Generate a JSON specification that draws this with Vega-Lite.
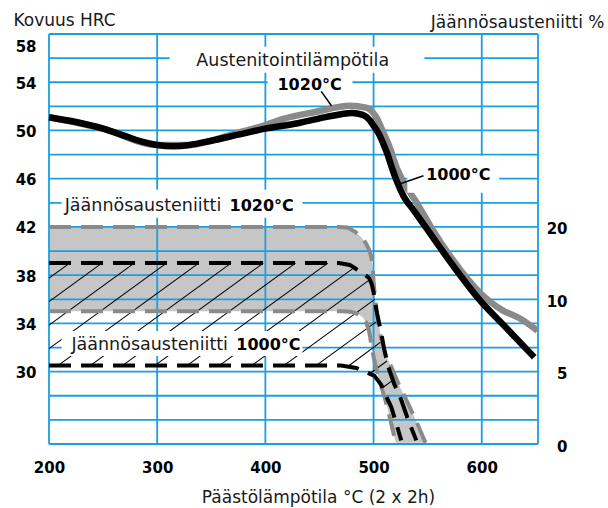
{
  "$schema": "https://vega.github.io/schema/vega-lite/v6.json",
  "width": 489,
  "height": 410,
  "autosize": {"type": "none"},
  "padding": {"left": 49, "top": 34, "right": 70, "bottom": 64},
  "background": "white",
  "config": {
    "view": {"stroke": null},
    "font": "DejaVu Sans",
    "axis": {"labelFont": "DejaVu Sans", "titleFont": "DejaVu Sans", "labelColor": "#000", "titleColor": "#1a1a1a"}
  },
  "datasets": {
    "kovuus": [
      {"austenitointi": "1000°C", "t": 200, "hrc": 51.1},
      {"austenitointi": "1000°C", "t": 225, "hrc": 50.7},
      {"austenitointi": "1000°C", "t": 250, "hrc": 50.15},
      {"austenitointi": "1000°C", "t": 270, "hrc": 49.55},
      {"austenitointi": "1000°C", "t": 285, "hrc": 49.1},
      {"austenitointi": "1000°C", "t": 300, "hrc": 48.8},
      {"austenitointi": "1000°C", "t": 315, "hrc": 48.7},
      {"austenitointi": "1000°C", "t": 330, "hrc": 48.8},
      {"austenitointi": "1000°C", "t": 350, "hrc": 49.15},
      {"austenitointi": "1000°C", "t": 375, "hrc": 49.65},
      {"austenitointi": "1000°C", "t": 400, "hrc": 50.15},
      {"austenitointi": "1000°C", "t": 430, "hrc": 50.6},
      {"austenitointi": "1000°C", "t": 450, "hrc": 51.0},
      {"austenitointi": "1000°C", "t": 470, "hrc": 51.35},
      {"austenitointi": "1000°C", "t": 480, "hrc": 51.45},
      {"austenitointi": "1000°C", "t": 490, "hrc": 51.3},
      {"austenitointi": "1000°C", "t": 496, "hrc": 50.9},
      {"austenitointi": "1000°C", "t": 500, "hrc": 50.4},
      {"austenitointi": "1000°C", "t": 505, "hrc": 49.7},
      {"austenitointi": "1000°C", "t": 509, "hrc": 48.9},
      {"austenitointi": "1000°C", "t": 513, "hrc": 48.0},
      {"austenitointi": "1000°C", "t": 517, "hrc": 46.9},
      {"austenitointi": "1000°C", "t": 521, "hrc": 45.9},
      {"austenitointi": "1000°C", "t": 528, "hrc": 44.5},
      {"austenitointi": "1000°C", "t": 537, "hrc": 43.4},
      {"austenitointi": "1000°C", "t": 548, "hrc": 42.0},
      {"austenitointi": "1000°C", "t": 573, "hrc": 38.85},
      {"austenitointi": "1000°C", "t": 598, "hrc": 35.95},
      {"austenitointi": "1000°C", "t": 623, "hrc": 33.6},
      {"austenitointi": "1000°C", "t": 648.5, "hrc": 31.2},
      {"austenitointi": "1020°C", "t": 200, "hrc": 51.1},
      {"austenitointi": "1020°C", "t": 250, "hrc": 50.15},
      {"austenitointi": "1020°C", "t": 300, "hrc": 48.8},
      {"austenitointi": "1020°C", "t": 330, "hrc": 48.8},
      {"austenitointi": "1020°C", "t": 370, "hrc": 49.7},
      {"austenitointi": "1020°C", "t": 400, "hrc": 50.45},
      {"austenitointi": "1020°C", "t": 416, "hrc": 50.95},
      {"austenitointi": "1020°C", "t": 447, "hrc": 51.55},
      {"austenitointi": "1020°C", "t": 478, "hrc": 52.05},
      {"austenitointi": "1020°C", "t": 493, "hrc": 51.9},
      {"austenitointi": "1020°C", "t": 502.5, "hrc": 51.1},
      {"austenitointi": "1020°C", "t": 508, "hrc": 50.05},
      {"austenitointi": "1020°C", "t": 514.7, "hrc": 48.65},
      {"austenitointi": "1020°C", "t": 521, "hrc": 47.0},
      {"austenitointi": "1020°C", "t": 526.6, "hrc": 45.9},
      {"austenitointi": "1020°C", "t": 540, "hrc": 44.0},
      {"austenitointi": "1020°C", "t": 553, "hrc": 42.0},
      {"austenitointi": "1020°C", "t": 573, "hrc": 39.3},
      {"austenitointi": "1020°C", "t": 597.7, "hrc": 36.6},
      {"austenitointi": "1020°C", "t": 618.9, "hrc": 35.1},
      {"austenitointi": "1020°C", "t": 634.6, "hrc": 34.45},
      {"austenitointi": "1020°C", "t": 651.5, "hrc": 33.4}
    ],
    "alueet": [
      {"reuna": "1020 ylä", "p": 1, "t": 200, "h": 42.0},
      {"reuna": "1020 ylä", "p": 2, "t": 468, "h": 42.0},
      {"reuna": "1020 ylä", "p": 3, "t": 476, "h": 41.95},
      {"reuna": "1020 ylä", "p": 4, "t": 483, "h": 41.6},
      {"reuna": "1020 ylä", "p": 5, "t": 488, "h": 41.2},
      {"reuna": "1020 ylä", "p": 6, "t": 492.5, "h": 40.7},
      {"reuna": "1020 ylä", "p": 7, "t": 496, "h": 40.1},
      {"reuna": "1020 ylä", "p": 8, "t": 498, "h": 39.5},
      {"reuna": "1020 ylä", "p": 9, "t": 499.3, "h": 38.6},
      {"reuna": "1020 ylä", "p": 10, "t": 500, "h": 37.5},
      {"reuna": "1020 ylä", "p": 11, "t": 501.3, "h": 36.2},
      {"reuna": "1020 ylä", "p": 12, "t": 503.5, "h": 34.6},
      {"reuna": "1020 ylä", "p": 13, "t": 507, "h": 32.8},
      {"reuna": "1020 ylä", "p": 14, "t": 511, "h": 31.4},
      {"reuna": "1020 ylä", "p": 15, "t": 516.4, "h": 30.4},
      {"reuna": "1020 ylä", "p": 16, "t": 523, "h": 29.0},
      {"reuna": "1020 ylä", "p": 17, "t": 530.3, "h": 27.65},
      {"reuna": "1020 ylä", "p": 18, "t": 539, "h": 26.0},
      {"reuna": "1020 ylä", "p": 19, "t": 548, "h": 24.1},
      {"reuna": "1020 ala", "p": 40, "t": 200, "h": 35.0},
      {"reuna": "1020 ala", "p": 39, "t": 472, "h": 35.0},
      {"reuna": "1020 ala", "p": 38, "t": 480, "h": 34.95},
      {"reuna": "1020 ala", "p": 37, "t": 486, "h": 34.75},
      {"reuna": "1020 ala", "p": 36, "t": 490, "h": 34.5},
      {"reuna": "1020 ala", "p": 35, "t": 493, "h": 34.1},
      {"reuna": "1020 ala", "p": 34, "t": 495.5, "h": 33.5},
      {"reuna": "1020 ala", "p": 33, "t": 497, "h": 32.8},
      {"reuna": "1020 ala", "p": 32, "t": 498, "h": 32.05},
      {"reuna": "1020 ala", "p": 31, "t": 501.7, "h": 30.56},
      {"reuna": "1020 ala", "p": 30, "t": 506, "h": 29.1},
      {"reuna": "1020 ala", "p": 29, "t": 510.9, "h": 27.65},
      {"reuna": "1020 ala", "p": 28, "t": 515.5, "h": 26.0},
      {"reuna": "1020 ala", "p": 27, "t": 520.5, "h": 24.1},
      {"reuna": "1000 ylä", "p": 1, "t": 200, "h": 39.0},
      {"reuna": "1000 ylä", "p": 2, "t": 468, "h": 39.0},
      {"reuna": "1000 ylä", "p": 3, "t": 478, "h": 38.85},
      {"reuna": "1000 ylä", "p": 4, "t": 485, "h": 38.45},
      {"reuna": "1000 ylä", "p": 5, "t": 491, "h": 38.1},
      {"reuna": "1000 ylä", "p": 6, "t": 496, "h": 37.75},
      {"reuna": "1000 ylä", "p": 7, "t": 498.5, "h": 37.2},
      {"reuna": "1000 ylä", "p": 8, "t": 500, "h": 36.6},
      {"reuna": "1000 ylä", "p": 9, "t": 502.6, "h": 35.1},
      {"reuna": "1000 ylä", "p": 10, "t": 506.5, "h": 33.45},
      {"reuna": "1000 ylä", "p": 11, "t": 510, "h": 31.8},
      {"reuna": "1000 ylä", "p": 12, "t": 513.6, "h": 30.4},
      {"reuna": "1000 ylä", "p": 13, "t": 519, "h": 29.0},
      {"reuna": "1000 ylä", "p": 14, "t": 525.6, "h": 27.65},
      {"reuna": "1000 ylä", "p": 15, "t": 532, "h": 26.0},
      {"reuna": "1000 ylä", "p": 16, "t": 539.5, "h": 24.3},
      {"reuna": "1000 ala", "p": 1, "t": 200, "h": 30.5},
      {"reuna": "1000 ala", "p": 2, "t": 470, "h": 30.5},
      {"reuna": "1000 ala", "p": 3, "t": 484, "h": 30.3},
      {"reuna": "1000 ala", "p": 4, "t": 492, "h": 30.0},
      {"reuna": "1000 ala", "p": 5, "t": 500.8, "h": 29.65},
      {"reuna": "1000 ala", "p": 6, "t": 507.2, "h": 28.9},
      {"reuna": "1000 ala", "p": 7, "t": 511.5, "h": 28.0},
      {"reuna": "1000 ala", "p": 8, "t": 516.4, "h": 27.05},
      {"reuna": "1000 ala", "p": 9, "t": 521, "h": 25.7},
      {"reuna": "1000 ala", "p": 10, "t": 525.6, "h": 24.3}
    ],
    "viivoitus": [
      {"t1": 88.9, "h1": 30.5, "t2": 219.1, "h2": 39.0},
      {"t1": 118.7, "h1": 30.5, "t2": 248.9, "h2": 39.0},
      {"t1": 148.6, "h1": 30.5, "t2": 278.8, "h2": 39.0},
      {"t1": 178.4, "h1": 30.5, "t2": 308.6, "h2": 39.0},
      {"t1": 208.2, "h1": 30.5, "t2": 338.4, "h2": 39.0},
      {"t1": 238.1, "h1": 30.5, "t2": 368.3, "h2": 39.0},
      {"t1": 267.9, "h1": 30.5, "t2": 398.1, "h2": 39.0},
      {"t1": 297.7, "h1": 30.5, "t2": 427.9, "h2": 39.0},
      {"t1": 327.5, "h1": 30.5, "t2": 457.7, "h2": 39.0},
      {"t1": 357.4, "h1": 30.5, "t2": 482.0, "h2": 38.63},
      {"t1": 387.2, "h1": 30.5, "t2": 496.55, "h2": 37.63},
      {"t1": 417.0, "h1": 30.5, "t2": 501.06, "h2": 35.99},
      {"t1": 446.8, "h1": 30.5, "t2": 504.56, "h2": 34.27},
      {"t1": 476.5, "h1": 30.45, "t2": 508.4, "h2": 32.57},
      {"t1": 496.3, "h1": 29.83, "t2": 512.4, "h2": 30.88},
      {"t1": 508.3, "h1": 28.67, "t2": 517.9, "h2": 29.3}
    ],
    "vaakaviivat": [
      {"h": 24}, {"h": 26}, {"h": 28}, {"h": 30}, {"h": 32}, {"h": 34},
      {"h": 36}, {"h": 38}, {"h": 40}, {"h": 42}, {"h": 44}, {"h": 46},
      {"h": 48}, {"h": 50}, {"h": 52}, {"h": 54}, {"h": 56}, {"h": 58}
    ],
    "pystyviivat": [
      {"t": 200}, {"t": 300}, {"t": 400}, {"t": 500}, {"t": 600}, {"t": 652}
    ],
    "taustat": [
      {"t1": 311.6, "t2": 547.0, "h1": 54.79, "h2": 56.95},
      {"t1": 402.0, "t2": 480.5, "h1": 52.88, "h2": 54.54},
      {"t1": 531.2, "t2": 616.2, "h1": 44.83, "h2": 47.9},
      {"t1": 211.7, "t2": 434.3, "h1": 42.76, "h2": 45.08},
      {"t1": 211.7, "t2": 434.3, "h1": 31.3, "h2": 33.38}
    ],
    "viitteet": [
      {"t1": 451.6, "h1": 53.24, "t2": 461.1, "h2": 52.05},
      {"t1": 524.8, "h1": 45.58, "t2": 546.1, "h2": 46.24}
    ],
    "tekstit": [
      {"teksti": "Austenitointilämpötila", "tyyppi": "nimi", "t": 336.2, "h": 55.37},
      {"teksti": "1020°C", "tyyppi": "lämpötila", "t": 411.2, "h": 53.38},
      {"teksti": "1000°C", "tyyppi": "lämpötila", "t": 548.6, "h": 45.9},
      {"teksti": "Jäännösausteniitti", "tyyppi": "nimi", "t": 214.5, "h": 43.34},
      {"teksti": "1020°C", "tyyppi": "lämpötila", "t": 366.9, "h": 43.34},
      {"teksti": "Jäännösausteniitti", "tyyppi": "nimi", "t": 220.7, "h": 31.8},
      {"teksti": "1000°C", "tyyppi": "lämpötila", "t": 373.1, "h": 31.8}
    ]
  },
  "resolve": {"axis": {"x": "independent", "y": "independent"}},
  "layer": [
    {
      "data": {"name": "alueet"},
      "transform": [{"filter": "datum.reuna == '1020 ylä' || datum.reuna == '1020 ala'"}],
      "mark": {"type": "line", "fill": "#c6c6c6", "strokeOpacity": 0, "interpolate": "linear"},
      "encoding": {
        "x": {"field": "t", "type": "quantitative", "scale": {"domain": [200, 652], "nice": false, "zero": false}, "axis": null},
        "y": {"field": "h", "type": "quantitative", "scale": {"domain": [24, 58], "nice": false, "zero": false}, "axis": null},
        "order": {"field": "p", "type": "quantitative"}
      }
    },
    {
      "data": {"name": "vaakaviivat"},
      "mark": {"type": "rule", "color": "#1a9fe0", "strokeWidth": 1.8},
      "encoding": {
        "y": {"field": "h", "type": "quantitative", "scale": {"domain": [24, 58], "nice": false, "zero": false}, "axis": null}
      }
    },
    {
      "data": {"name": "pystyviivat"},
      "mark": {"type": "rule", "color": "#1a9fe0", "strokeWidth": 1.8},
      "encoding": {
        "x": {
          "field": "t", "type": "quantitative",
          "scale": {"domain": [200, 652], "nice": false, "zero": false},
          "axis": {
            "orient": "bottom",
            "values": [200, 300, 400, 500, 600],
            "ticks": false, "domain": false, "grid": false,
            "labelFlush": false,
            "labelFontSize": 15, "labelFontWeight": "bold", "labelPadding": 16,
            "title": "Päästölämpötila °C (2 x 2h)",
            "titleFontSize": 17, "titleFontWeight": "normal",
            "titleBaseline": "alphabetic", "titleX": 269, "titleY": 58
          }
        }
      }
    },
    {
      "data": {"name": "viivoitus"},
      "mark": {"type": "rule", "color": "#000", "strokeWidth": 1.1, "clip": true},
      "encoding": {
        "x": {"field": "t1", "type": "quantitative", "scale": {"domain": [200, 652], "nice": false, "zero": false}, "axis": null},
        "y": {"field": "h1", "type": "quantitative", "scale": {"domain": [24, 58], "nice": false, "zero": false}, "axis": null},
        "x2": {"field": "t2"},
        "y2": {"field": "h2"}
      }
    },
    {
      "data": {"name": "alueet"},
      "transform": [{"filter": "datum.reuna == '1020 ylä' || datum.reuna == '1020 ala'"}],
      "mark": {"type": "line", "color": "#8a8a8a", "strokeWidth": 4, "strokeDash": [22, 10], "interpolate": "linear"},
      "encoding": {
        "x": {"field": "t", "type": "quantitative", "scale": {"domain": [200, 652], "nice": false, "zero": false}, "axis": null},
        "y": {"field": "h", "type": "quantitative", "scale": {"domain": [24, 58], "nice": false, "zero": false}, "axis": null},
        "detail": {"field": "reuna"},
        "order": {"field": "t", "type": "quantitative"}
      }
    },
    {
      "data": {"name": "alueet"},
      "transform": [{"filter": "datum.reuna == '1000 ylä' || datum.reuna == '1000 ala'"}],
      "mark": {"type": "line", "color": "#000", "strokeWidth": 4, "strokeDash": [22, 10], "interpolate": "linear"},
      "encoding": {
        "x": {"field": "t", "type": "quantitative", "scale": {"domain": [200, 652], "nice": false, "zero": false}, "axis": null},
        "y": {"field": "h", "type": "quantitative", "scale": {"domain": [24, 58], "nice": false, "zero": false}, "axis": null},
        "detail": {"field": "reuna"},
        "order": {"field": "t", "type": "quantitative"}
      }
    },
    {
      "data": {"name": "kovuus"},
      "transform": [{"filter": "datum.austenitointi == '1020°C'"}],
      "mark": {"type": "line", "color": "#8a8a8a", "strokeWidth": 6.5, "interpolate": "monotone"},
      "encoding": {
        "x": {"field": "t", "type": "quantitative", "scale": {"domain": [200, 652], "nice": false, "zero": false}, "axis": null},
        "y": {
          "field": "hrc", "type": "quantitative",
          "scale": {"domain": [24, 58], "nice": false, "zero": false},
          "axis": {
            "orient": "right",
            "values": [24, 30, 36, 42],
            "labelExpr": "datum.value == 42 ? '20' : datum.value == 36 ? '10' : datum.value == 30 ? '5' : '0'",
            "ticks": false, "domain": false, "grid": false,
            "labelFontSize": 15, "labelFontWeight": "bold", "labelAlign": "right",
            "labelPadding": 29, "labelOffset": 2,
            "title": "Jäännösausteniitti %",
            "titleAngle": 0, "titleAlign": "right", "titleBaseline": "alphabetic",
            "titleX": 66, "titleY": -7, "titleFontSize": 17, "titleFontWeight": "normal"
          }
        }
      }
    },
    {
      "data": {"name": "kovuus"},
      "transform": [{"filter": "datum.austenitointi == '1000°C'"}],
      "mark": {"type": "line", "color": "#000", "strokeWidth": 6.5, "interpolate": "monotone"},
      "encoding": {
        "x": {"field": "t", "type": "quantitative", "scale": {"domain": [200, 652], "nice": false, "zero": false}, "axis": null},
        "y": {
          "field": "hrc", "type": "quantitative",
          "scale": {"domain": [24, 58], "nice": false, "zero": false},
          "axis": {
            "orient": "left",
            "values": [30, 34, 38, 42, 46, 50, 54, 58],
            "ticks": false, "domain": false, "grid": false,
            "labelFontSize": 15, "labelFontWeight": "bold",
            "labelPadding": 13, "labelOffset": 1,
            "labelFlush": true, "labelFlushOffset": -4,
            "title": "Kovuus HRC",
            "titleAngle": 0, "titleAlign": "left", "titleBaseline": "alphabetic",
            "titleX": -36, "titleY": -9, "titleFontSize": 17, "titleFontWeight": "normal"
          }
        }
      }
    },
    {
      "data": {"name": "taustat"},
      "mark": {"type": "rect", "color": "white"},
      "encoding": {
        "x": {"field": "t1", "type": "quantitative", "scale": {"domain": [200, 652], "nice": false, "zero": false}, "axis": null},
        "x2": {"field": "t2"},
        "y": {"field": "h1", "type": "quantitative", "scale": {"domain": [24, 58], "nice": false, "zero": false}, "axis": null},
        "y2": {"field": "h2"}
      }
    },
    {
      "data": {"name": "viitteet"},
      "mark": {"type": "rule", "color": "#000", "strokeWidth": 1.5},
      "encoding": {
        "x": {"field": "t1", "type": "quantitative", "scale": {"domain": [200, 652], "nice": false, "zero": false}, "axis": null},
        "y": {"field": "h1", "type": "quantitative", "scale": {"domain": [24, 58], "nice": false, "zero": false}, "axis": null},
        "x2": {"field": "t2"},
        "y2": {"field": "h2"}
      }
    },
    {
      "data": {"name": "tekstit"},
      "transform": [{"filter": "datum.tyyppi == 'nimi'"}],
      "mark": {"type": "text", "font": "DejaVu Sans", "fontSize": 17.5, "align": "left", "baseline": "alphabetic", "color": "#1a1a1a"},
      "encoding": {
        "x": {"field": "t", "type": "quantitative", "scale": {"domain": [200, 652], "nice": false, "zero": false}, "axis": null},
        "y": {"field": "h", "type": "quantitative", "scale": {"domain": [24, 58], "nice": false, "zero": false}, "axis": null},
        "text": {"field": "teksti"}
      }
    },
    {
      "data": {"name": "tekstit"},
      "transform": [{"filter": "datum.tyyppi == 'lämpötila'"}],
      "mark": {"type": "text", "font": "DejaVu Sans", "fontSize": 16, "fontWeight": "bold", "align": "left", "baseline": "alphabetic", "color": "#000"},
      "encoding": {
        "x": {"field": "t", "type": "quantitative", "scale": {"domain": [200, 652], "nice": false, "zero": false}, "axis": null},
        "y": {"field": "h", "type": "quantitative", "scale": {"domain": [24, 58], "nice": false, "zero": false}, "axis": null},
        "text": {"field": "teksti"}
      }
    }
  ]
}
